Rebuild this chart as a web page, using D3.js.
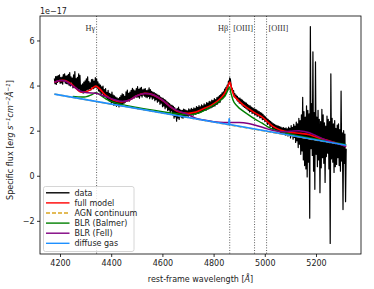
<!DOCTYPE html>
<html>
<head>
<meta charset="utf-8">
<script src="https://d3js.org/d3.v7.min.js"></script>
<style>
  body { margin: 0; background: #fff; }
  text { font-family: "DejaVu Sans", sans-serif; }
  .tick text { font-size: 8px; }
</style>
</head>
<body>
<svg id="chart" width="374" height="289"></svg>
<script>
// spectrum, sampled every 2.5 A starting at 4178 A (flux in 1e-17)
var waveStart = 4178, waveStep = 2.5;
var flux = [
  4.32, 4.08, 4.40, 4.05, 4.41, 4.14, 4.44, 4.18, 4.47, 4.10, 4.35, 4.12, 4.38, 4.06, 4.49, 4.21, 4.52, 4.11, 4.42, 4.09,
  4.44, 4.07, 4.50, 4.02, 4.58, 3.98, 4.39, 4.15, 4.33, 3.90, 4.47, 3.92, 4.62, 3.95, 4.31, 3.88, 4.36, 3.80, 4.52, 3.84,
  4.45, 3.74, 4.02, 3.78, 4.08, 3.66, 4.15, 3.69, 4.21, 3.75, 4.30, 3.80, 4.39, 3.83, 4.18, 3.86, 4.12, 3.80, 4.26, 3.95,
  4.28, 3.86, 4.20, 3.90, 4.35, 3.93, 4.30, 3.88, 4.17, 3.76, 4.08, 3.72, 4.02, 3.60, 3.94, 3.66, 3.98, 3.50, 3.82, 3.52,
  3.87, 3.45, 3.70, 3.41, 3.79, 3.33, 3.66, 3.30, 3.62, 3.20, 3.71, 3.25, 3.58, 3.12, 3.54, 3.16, 3.49, 3.08, 3.45, 3.14,
  3.42, 3.05, 3.48, 3.12, 3.55, 3.15, 3.63, 3.19, 3.60, 3.22, 3.52, 3.26, 3.72, 3.30, 3.80, 3.35, 3.66, 3.31, 3.71, 3.42,
  3.79, 3.40, 3.88, 3.48, 3.81, 3.45, 3.77, 3.52, 3.86, 3.47, 3.95, 3.50, 3.83, 3.44, 3.89, 3.55, 3.92, 3.49, 3.81, 3.57,
  3.84, 3.53, 3.87, 3.49, 3.78, 3.46, 3.80, 3.52, 3.90, 3.42, 3.82, 3.50, 3.74, 3.40, 3.71, 3.44, 3.69, 3.33, 3.64, 3.38,
  3.62, 3.26, 3.58, 3.31, 3.55, 3.17, 3.49, 3.22, 3.46, 3.06, 3.43, 3.10, 3.38, 2.97, 3.35, 3.04, 3.29, 2.90, 3.24, 2.92,
  3.20, 2.80, 3.15, 2.88, 3.12, 2.70, 3.08, 2.55, 3.02, 2.62, 2.96, 2.42, 2.98, 2.56, 3.04, 2.50, 2.95, 2.62, 2.90, 2.58,
  2.90, 2.55, 2.96, 2.62, 2.93, 2.60, 2.90, 2.66, 2.88, 2.63, 2.97, 2.68, 2.92, 2.66, 2.99, 2.70, 2.95, 2.69, 3.01, 2.74,
  2.98, 2.72, 3.07, 2.78, 3.03, 2.77, 3.11, 2.80, 3.06, 2.82, 3.14, 2.86, 3.10, 2.88, 3.19, 2.91, 3.15, 2.90, 3.24, 2.95,
  3.22, 2.96, 3.30, 3.00, 3.28, 3.02, 3.36, 3.05, 3.33, 3.08, 3.42, 3.10, 3.38, 3.16, 3.47, 3.18, 3.50, 3.24, 3.56, 3.26,
  3.60, 3.38, 3.68, 3.42, 3.72, 3.50, 3.84, 3.55, 3.92, 3.76, 4.02, 3.80, 4.20, 4.10, 4.34, 4.28, 4.05, 3.82, 3.88, 3.70,
  3.78, 3.50, 3.64, 3.45, 3.58, 3.36, 3.52, 3.30, 3.46, 3.22, 3.44, 3.20, 3.39, 3.14, 3.35, 3.08, 3.30, 3.03, 3.26, 3.00,
  3.22, 2.95, 3.17, 2.90, 3.12, 2.83, 3.10, 2.85, 3.05, 2.76, 3.01, 2.78, 2.98, 2.72, 2.95, 2.70, 2.92, 2.63, 2.88, 2.65,
  2.85, 2.57, 2.80, 2.58, 2.78, 2.49, 2.72, 2.50, 2.66, 2.40, 2.61, 2.42, 2.55, 2.28, 2.50, 2.30, 2.45, 2.18, 2.41, 2.20,
  2.36, 2.08, 2.31, 2.10, 2.28, 2.00, 2.25, 2.02, 2.22, 1.94, 2.20, 1.96, 2.18, 1.88, 2.16, 1.92, 2.12, 1.85, 2.14, 1.90,
  2.10, 1.80, 2.12, 1.85, 2.08, 1.76, 2.16, 1.82, 2.10, 1.68, 2.22, 1.78, 2.15, 1.62, 2.28, 1.70, 2.20, 1.48, 2.38, 1.55,
  2.30, 1.25, 2.55, 1.40, 2.45, 0.95, 2.70, 1.10, 3.48, 0.70, 2.85, 0.45, 2.60, 0.30, 3.10, -0.05, 2.90, 0.60, 2.75, -1.88,
  6.62, 1.20, 3.20, 0.90, 5.50, 0.20, 2.80, -0.60, 5.05, 0.95, 2.60, 0.40, 2.90, 0.70, 2.50, -0.75, 2.40, 0.35, 2.95, 0.80,
  2.70, 0.55, 2.35, -0.30, 2.20, 0.85, 2.65, 1.00, 2.50, 0.30, 2.40, -3.00, 4.52, 0.75, 2.55, 0.60, 2.30, 0.15, 2.45, 0.40,
  2.10, 0.50, 2.25, 0.80, 2.30, 0.45, 2.05, 0.20, 3.75, 0.65, 1.90, -1.50, 2.00, 0.55, 1.85, -1.15, 1.20
];
var wave = flux.map(function(d, i) { return waveStart + i * waveStep; });

// model components [wavelength, flux]
var fullModel = [
  [4178, 4.15], [4200, 4.22], [4220, 4.22], [4240, 4.10], [4260, 3.90],
  [4280, 3.72], [4300, 3.72], [4320, 3.82], [4340, 3.98], [4355, 3.85],
  [4380, 3.55], [4410, 3.35], [4440, 3.28], [4470, 3.35], [4500, 3.55],
  [4530, 3.65], [4560, 3.60], [4600, 3.35], [4630, 3.07], [4660, 2.85],
  [4700, 2.77], [4730, 2.82], [4760, 2.97], [4790, 3.12], [4820, 3.35],
  [4840, 3.60], [4855, 3.95], [4863, 4.15], [4870, 3.90], [4880, 3.55],
  [4900, 3.30], [4930, 3.02], [4960, 2.80], [4990, 2.60], [5010, 2.40],
  [5030, 2.20], [5060, 2.03], [5100, 1.92], [5140, 1.88], [5175, 1.82],
  [5210, 1.68], [5250, 1.55], [5290, 1.42], [5318, 1.30]
];
var agnCont = [[4178, 3.62], [5318, 1.35]];
var blrBalmer = [
  [4250, 3.52], [4300, 3.50], [4325, 3.60], [4340, 3.68], [4355, 3.60],
  [4380, 3.40], [4420, 3.22], [4500, 3.03], [4600, 2.84], [4650, 2.76],
  [4700, 2.70], [4740, 2.78], [4780, 3.00], [4820, 3.28], [4845, 3.55],
  [4862, 3.92], [4868, 3.66], [4880, 3.25], [4900, 3.00], [4930, 2.75],
  [4960, 2.52], [4990, 2.33], [5010, 2.18], [5040, 2.02], [5080, 1.90],
  [5120, 1.80], [5200, 1.63], [5260, 1.50], [5318, 1.38]
];
var blrFeII = [
  [4178, 4.15], [4200, 4.22], [4220, 4.20], [4250, 3.98], [4280, 3.75],
  [4310, 3.68], [4340, 3.66], [4370, 3.55], [4400, 3.42], [4440, 3.30],
  [4470, 3.35], [4500, 3.55], [4530, 3.65], [4560, 3.60], [4600, 3.35],
  [4630, 3.07], [4660, 2.88], [4700, 2.72], [4730, 2.55], [4760, 2.47],
  [4800, 2.40], [4840, 2.36], [4870, 2.36], [4900, 2.36], [4930, 2.33],
  [4960, 2.25], [4990, 2.15], [5010, 2.08], [5040, 1.99], [5070, 1.95],
  [5100, 1.97], [5140, 1.99], [5170, 1.92], [5200, 1.78], [5240, 1.58],
  [5280, 1.44], [5318, 1.30]
];
var diffuseGas = [[4178, 3.62], [4859, 2.27], [4861, 2.55], [4863, 2.27], [5318, 1.35]];

var lineNames = ["H\u03b3", "H\u03b2", "[OIII]", "[OIII]"];
var lineWaves = [4343, 4863, 4960, 5007];
var lineAnchor = ["end", "end", "end", "start"];

var xTicks = [4200, 4400, 4600, 4800, 5000, 5200];
var yTicks = [-2, 0, 2, 4, 6];

var legendLabels = ["data", "full model", "AGN continuum", "BLR (Balmer)", "BLR (FeII)", "diffuse gas"];
var legendColors = ["black", "red", "goldenrod", "green", "purple", "dodgerblue"];

var svg = d3.select("#chart");
var plotL = 40, plotR = 361, plotT = 16, plotB = 254;

var x = d3.scaleLinear().domain([4121.9, 5375.8]).range([plotL, plotR]);
var y = d3.scaleLinear().domain([-3.47, 7.085]).range([plotB, plotT]);

var plot = svg.append("g");

// vertical lines for emission lines
lineWaves.forEach(function(w, i) {
  plot.append("line")
    .attr("x1", x(w)).attr("x2", x(w))
    .attr("y1", plotT).attr("y2", plotB)
    .attr("stroke", "#333").attr("stroke-width", 0.8)
    .attr("stroke-dasharray", "1,1.6");
  plot.append("text")
    .attr("x", lineAnchor[i] == "end" ? x(w) - 1.5 : x(w) + 2)
    .attr("y", 31)
    .attr("text-anchor", lineAnchor[i])
    .style("font-family", "'Liberation Serif', serif")
    .style("font-size", "8.3px")
    .attr("fill", "#333")
    .text(lineNames[i]);
});

var curve = d3.line()
  .x(function(d) { return x(d[0]); })
  .y(function(d) { return y(d[1]); })
  .curve(d3.curveCatmullRom);

var straight = d3.line()
  .x(function(d) { return x(d[0]); })
  .y(function(d) { return y(d[1]); });

plot.append("path")
  .datum(wave.map(function(w, i) { return [w, flux[i]]; }))
  .attr("d", straight)
  .attr("fill", "none").attr("stroke", "black").attr("stroke-width", 1.2)
  .attr("stroke-linejoin", "round");

plot.append("path").datum(fullModel).attr("d", curve)
  .attr("fill", "none").attr("stroke", "red").attr("stroke-width", 1.7);
plot.append("path").datum(agnCont).attr("d", straight)
  .attr("fill", "none").attr("stroke", "goldenrod").attr("stroke-width", 1.5)
  .attr("stroke-dasharray", "4,2");
plot.append("path").datum(blrBalmer).attr("d", curve)
  .attr("fill", "none").attr("stroke", "green").attr("stroke-width", 1.4);
plot.append("path").datum(blrFeII).attr("d", curve)
  .attr("fill", "none").attr("stroke", "purple").attr("stroke-width", 1.5);
plot.append("path").datum(diffuseGas).attr("d", straight)
  .attr("fill", "none").attr("stroke", "dodgerblue").attr("stroke-width", 1.6);

// frame
svg.append("rect")
  .attr("x", plotL).attr("y", plotT)
  .attr("width", plotR - plotL).attr("height", plotB - plotT)
  .attr("fill", "none").attr("stroke", "black").attr("stroke-width", 0.8);

// axes
var xAxis = d3.axisBottom(x).tickValues(xTicks).tickSize(3).tickPadding(3).tickFormat(d3.format("d"));
var yAxis = d3.axisLeft(y).tickValues(yTicks).tickSize(3).tickPadding(2.5)
  .tickFormat(function(d) { return d < 0 ? "\u2212" + Math.abs(d) : d; });

var gx = svg.append("g").attr("transform", "translate(0," + plotB + ")").call(xAxis);
var gy = svg.append("g").attr("transform", "translate(" + plotL + ",0)").call(yAxis);
gx.select(".domain").remove();
gy.select(".domain").remove();
svg.selectAll(".tick line").attr("stroke-width", 0.8);
svg.selectAll(".tick text").attr("fill", "#222");

svg.append("text")
  .attr("x", 40).attr("y", 14)
  .style("font-size", "8px").attr("fill", "#222")
  .text("1e\u221217");

svg.append("text")
  .attr("x", (plotL + plotR) / 2).attr("y", 282)
  .attr("text-anchor", "middle")
  .style("font-size", "8px").attr("fill", "#222")
  .html("rest-frame wavelength [<tspan font-style='italic'>\u00c5</tspan>]");

// y label with superscripts
var yl = svg.append("text")
  .attr("transform", "translate(13,140) rotate(-90)")
  .attr("text-anchor", "middle")
  .style("font-size", "8px").attr("fill", "#222");
yl.append("tspan").text("Specific flux [");
yl.append("tspan").attr("font-style", "italic").text("erg s");
yl.append("tspan").attr("font-style", "italic").attr("font-size", "5.6px").attr("dy", -3).text("\u22121");
yl.append("tspan").attr("font-style", "italic").attr("dy", 3).text("cm");
yl.append("tspan").attr("font-style", "italic").attr("font-size", "5.6px").attr("dy", -3).text("\u22122");
yl.append("tspan").attr("font-style", "italic").attr("dy", 3).text("\u00c5");
yl.append("tspan").attr("font-style", "italic").attr("font-size", "5.6px").attr("dy", -3).text("\u22121");
yl.append("tspan").attr("dy", 3).text("]");

// legend
var lg = svg.append("g");
lg.append("rect")
  .attr("x", 43.5).attr("y", 186.5).attr("width", 90.5).attr("height", 65)
  .attr("rx", 2)
  .attr("fill", "white").attr("fill-opacity", 0.8)
  .attr("stroke", "#ccc").attr("stroke-width", 0.8);
legendLabels.forEach(function(lab, i) {
  var yy = 192.8 + i * 10.1;
  lg.append("line")
    .attr("x1", 46).attr("x2", 69.5).attr("y1", yy).attr("y2", yy)
    .attr("stroke", legendColors[i]).attr("stroke-width", 1.4)
    .attr("stroke-dasharray", i == 2 ? "4,2" : null);
  lg.append("text")
    .attr("x", 74.5).attr("y", yy + 2.9)
    .style("font-size", "8px").attr("fill", "#222")
    .text(lab);
});
</script>
</body>
</html>
